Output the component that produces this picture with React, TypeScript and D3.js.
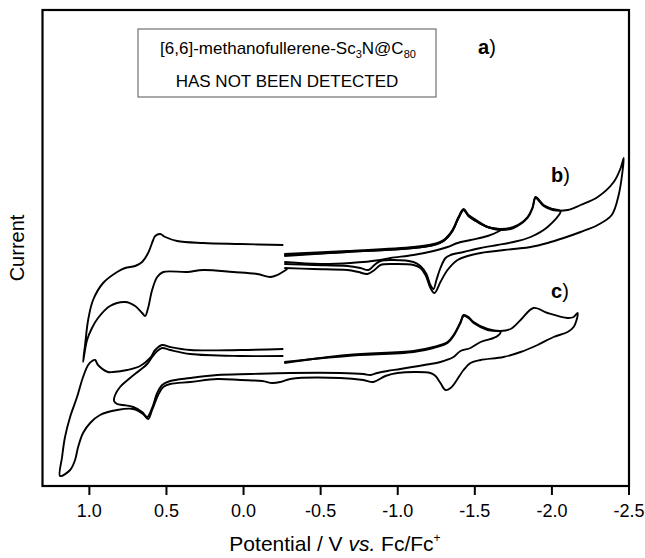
import * as d3 from "d3";

// potentials in V vs. Fc/Fc+, current in arbitrary units
// trace b: oxidative sweep (0.25 V side)
const bOxidation: [number, number][] = [
  [-0.258, 24.1], [0.022, 24.2], [0.262, 24.3], [0.431, 24.5], [0.508, 24.9], [0.541, 25.2],
  [0.573, 25.0], [0.586, 24.6], [0.619, 23.3], [0.658, 22.4], [0.703, 22.0], [0.768, 21.8],
  [0.82, 21.4], [0.911, 20.3], [0.976, 18.6], [1.008, 16.6], [1.028, 14.1], [1.041, 12.4],
  [1.015, 14.6], [0.983, 15.8], [0.944, 16.8], [0.866, 18.0], [0.768, 18.4], [0.703, 18.0],
  [0.658, 17.3], [0.638, 17.0], [0.619, 17.8], [0.593, 19.6], [0.56, 20.9], [0.521, 21.4],
  [0.366, 21.4], [0.262, 21.6], [0.067, 21.4], [-0.089, 21.2], [-0.173, 20.9], [-0.219, 21.1],
  [-0.284, 21.7],
];

// trace b: reductive sweeps, switching at -1.65, -2.05 and -2.47 V
const bScan1: [number, number][] = [
  [-0.264, 23.0], [-0.673, 23.4], [-1.102, 23.8], [-1.232, 24.1], [-1.297, 24.5], [-1.355, 25.5],
  [-1.394, 26.8], [-1.427, 27.6], [-1.459, 27.0], [-1.518, 26.4], [-1.583, 25.9], [-1.667, 25.6],
  [-1.647, 25.4], [-1.583, 25.0], [-1.472, 24.6], [-1.388, 24.3], [-1.323, 23.9], [-1.232, 23.5],
  [-1.102, 23.1], [-0.953, 22.8], [-0.888, 22.6], [-0.693, 22.3], [-0.498, 22.2], [-0.264, 22.4],
];

const bScan2: [number, number][] = [
  [-0.264, 23.2], [-0.673, 23.5], [-1.102, 23.9], [-1.232, 24.2], [-1.297, 24.6], [-1.355, 25.6],
  [-1.394, 26.9], [-1.427, 27.7], [-1.459, 27.1], [-1.518, 26.5], [-1.583, 25.9], [-1.667, 25.7],
  [-1.751, 25.9], [-1.842, 26.9], [-1.875, 27.9], [-1.894, 28.9], [-1.946, 28.1], [-2.005, 27.7],
  [-2.056, 27.5], [-1.972, 25.9], [-1.862, 24.9], [-1.751, 24.4], [-1.647, 24.1], [-1.537, 23.8],
  [-1.427, 23.4], [-1.343, 23.1], [-1.31, 22.8], [-1.277, 21.8], [-1.251, 20.6], [-1.232, 19.7],
  [-1.212, 20.1], [-1.186, 21.2], [-1.147, 22.0], [-1.102, 22.4], [-0.972, 22.6], [-0.888, 22.5],
  [-0.849, 22.1], [-0.81, 21.6], [-0.758, 21.8], [-0.673, 22.0], [-0.453, 22.1], [-0.264, 22.2],
];

const bScan3: [number, number][] = [
  [-0.264, 23.1], [-0.673, 23.4], [-1.102, 23.8], [-1.232, 24.1], [-1.297, 24.5], [-1.355, 25.5],
  [-1.394, 26.8], [-1.427, 27.6], [-1.459, 27.0], [-1.518, 26.4], [-1.583, 25.9], [-1.667, 25.6],
  [-1.751, 25.8], [-1.842, 26.8], [-1.875, 27.8], [-1.894, 28.8], [-1.946, 28.0], [-2.005, 27.6],
  [-2.102, 27.6], [-2.186, 28.1], [-2.297, 28.9], [-2.401, 30.4], [-2.446, 31.8], [-2.466, 32.8],
  [-2.459, 31.6], [-2.433, 29.1], [-2.388, 27.1], [-2.297, 26.1], [-2.186, 25.4], [-2.076, 24.8],
  [-1.972, 24.3], [-1.862, 23.9], [-1.751, 23.7], [-1.537, 23.3], [-1.453, 23.0], [-1.388, 22.6],
  [-1.323, 21.6], [-1.277, 20.4], [-1.238, 19.3], [-1.212, 19.8], [-1.18, 21.1], [-1.147, 21.8],
  [-1.102, 22.1], [-0.972, 22.2], [-0.888, 22.1], [-0.849, 21.6], [-0.803, 21.2], [-0.745, 21.4],
  [-0.673, 21.6], [-0.453, 21.7], [-0.264, 21.8],
];

// trace c: full cycles, inner (-1.65 / 0.83 V) and outer (-2.17 / 1.19 V)
const cInner: [number, number][] = [
  [-0.264, 12.4], [-0.673, 13.0], [-1.102, 13.4], [-1.232, 13.8], [-1.323, 14.3], [-1.362, 15.0],
  [-1.407, 16.3], [-1.427, 17.0], [-1.459, 16.8], [-1.492, 16.3], [-1.583, 15.6], [-1.667, 15.4],
  [-1.647, 15.0], [-1.621, 14.8], [-1.537, 14.4], [-1.472, 13.8], [-1.407, 13.5], [-1.362, 12.9],
  [-1.277, 12.4], [-1.212, 12.2], [-1.017, 11.7], [-0.933, 11.5], [-0.868, 11.3], [-0.823, 11.1],
  [-0.777, 11.2], [-0.628, 11.3], [-0.303, 11.3], [-0.044, 11.2], [0.171, 11.1], [0.346, 10.8],
  [0.476, 10.5], [0.528, 10.1], [0.56, 9.3], [0.593, 7.8], [0.625, 6.9], [0.658, 7.4],
  [0.716, 7.9], [0.781, 8.1], [0.82, 8.2], [0.84, 8.5], [0.833, 9.1], [0.801, 9.9],
  [0.736, 10.8], [0.671, 11.6], [0.625, 12.2], [0.593, 12.9], [0.56, 13.5], [0.528, 13.8],
  [0.476, 13.6], [0.346, 13.2], [0.021, 13.0], [-0.258, 13.0],
];

const cOuter: [number, number][] = [
  [-0.264, 12.3], [-0.673, 13.1], [-1.102, 13.5], [-1.232, 13.9], [-1.323, 14.4], [-1.362, 15.1],
  [-1.407, 16.4], [-1.427, 17.1], [-1.459, 16.9], [-1.492, 16.4], [-1.583, 15.7], [-1.667, 15.5],
  [-1.732, 15.7], [-1.797, 16.6], [-1.881, 17.8], [-1.972, 17.3], [-2.102, 16.8], [-2.141, 16.9],
  [-2.167, 17.3], [-2.16, 16.6], [-2.141, 15.9], [-2.102, 15.4], [-2.011, 14.9], [-1.907, 14.1],
  [-1.797, 13.4], [-1.686, 12.9], [-1.537, 12.6], [-1.472, 12.3], [-1.427, 11.6], [-1.375, 10.4],
  [-1.343, 9.8], [-1.31, 9.6], [-1.277, 10.3], [-1.245, 11.0], [-1.212, 11.3], [-0.998, 11.3],
  [-0.92, 11.0], [-0.842, 10.4], [-0.777, 10.6], [-0.628, 10.8], [-0.303, 10.7], [-0.238, 10.4],
  [-0.186, 10.3], [-0.121, 10.5], [0.021, 10.6], [0.171, 10.7], [0.346, 10.4], [0.476, 10.2],
  [0.521, 9.9], [0.554, 9.1], [0.593, 7.6], [0.619, 6.7], [0.652, 7.2], [0.716, 7.7],
  [0.82, 7.6], [0.931, 7.1], [0.995, 6.3], [1.041, 5.3], [1.073, 3.9], [1.093, 2.6],
  [1.125, 1.6], [1.19, 1.0], [1.177, 2.9], [1.158, 4.9], [1.125, 6.9], [1.08, 8.9],
  [1.041, 10.9], [1.008, 12.1], [0.982, 12.5], [0.963, 12.6], [0.944, 12.1], [0.879, 11.4],
  [0.846, 11.4], [0.755, 11.6], [0.671, 12.0], [0.606, 12.8], [0.573, 13.6], [0.528, 14.1],
  [0.476, 13.9], [0.346, 13.6], [0.021, 13.6], [-0.258, 13.7],
];

const traces = [bOxidation, bScan1, bScan2, bScan3, cInner, cOuter];
const xTicks = [1.0, 0.5, 0.0, -0.5, -1.0, -1.5, -2.0, -2.5];

const width = 645;
const height = 558;
const left = 42.5;
const right = 629;
const top = 10;
const bottom = 486;
const font = "'Liberation Sans', Arial, sans-serif";

export default function App() {
  const x = d3.scaleLinear().domain([1.304, -2.5]).range([left, right]);
  const y = d3.scaleLinear().domain([0, 47.6]).range([bottom, top]);

  const line = d3
    .line<[number, number]>()
    .x((d) => x(d[0]))
    .y((d) => y(d[1]))
    .curve(d3.curveCatmullRom.alpha(0.5));

  return (
    <svg
      width={width}
      height={height}
      style={{ position: "absolute", left: 0, top: 0, background: "#fff" }}
      fontFamily={font}
    >
      {/* curves */}
      <g fill="none" stroke="#000" strokeWidth={1.9} strokeLinejoin="round">
        {traces.map((t, i) => (
          <path key={i} d={line(t) ?? ""} />
        ))}
      </g>

      {/* frame */}
      <rect x={left} y={top} width={right - left} height={bottom - top} fill="none" stroke="#000" strokeWidth={2.2} />

      {/* x axis ticks */}
      {xTicks.map((t) => (
        <g key={t} transform={`translate(${x(t)},${bottom})`}>
          <line y1={0} y2={9} stroke="#000" strokeWidth={2} />
          <text y={31} textAnchor="middle" fontSize={18}>
            {t === 0 ? "0.0" : d3.format(".1f")(t).replace("−", "-")}
          </text>
        </g>
      ))}

      {/* axis titles */}
      <text x={335} y={551} textAnchor="middle" fontSize={21}>
        Potential / V <tspan fontStyle="italic">vs.</tspan> Fc/Fc
        <tspan dy={-9} fontSize={12}>+</tspan>
      </text>
      <text transform="translate(24,248) rotate(-90)" textAnchor="middle" fontSize={20}>
        Current
      </text>

      {/* annotation box */}
      <rect x={138} y={29} width={298} height={68} fill="none" stroke="#555" strokeWidth={1} />
      <text x={288} y={54} textAnchor="middle" fontSize={17}>
        [6,6]-methanofullerene-Sc<tspan dy={4} fontSize={11}>3</tspan>
        <tspan dy={-4}>N@C</tspan>
        <tspan dy={4} fontSize={11}>80</tspan>
      </text>
      <text x={287} y={87} textAnchor="middle" fontSize={17}>
        HAS NOT BEEN DETECTED
      </text>

      {/* trace labels */}
      {[
        ["a", 478, 54],
        ["b", 551, 182],
        ["c", 551, 298],
      ].map(([l, lx, ly]) => (
        <text key={l as string} x={lx as number} y={ly as number} fontSize={20}>
          <tspan fontWeight="bold">{l}</tspan>)
        </text>
      ))}
    </svg>
  );
}
